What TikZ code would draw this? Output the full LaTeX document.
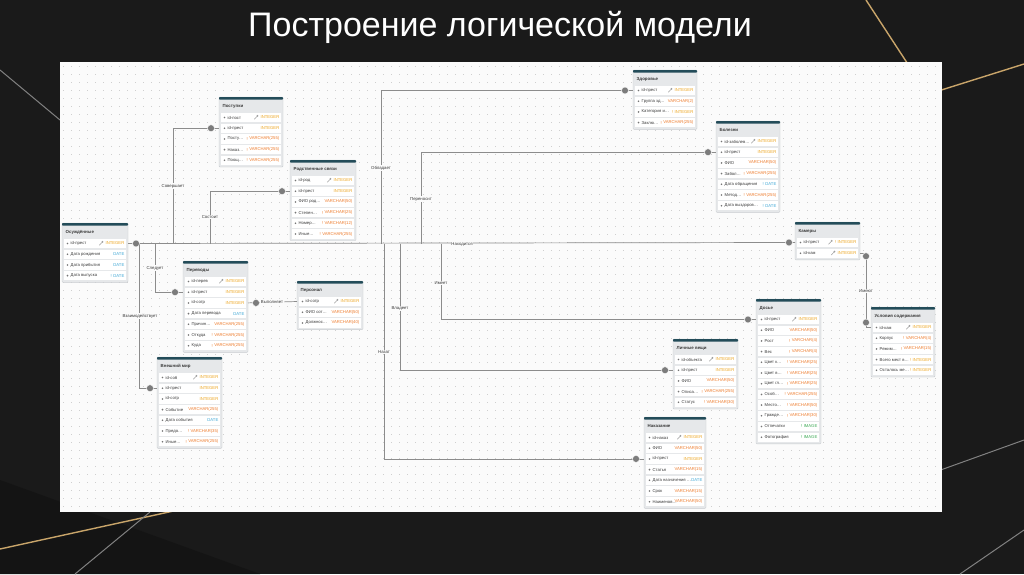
\documentclass[tikz,border=0pt]{standalone}
\usepackage{fontspec}
\setmainfont{Liberation Sans}
\usetikzlibrary{calc}
\definecolor{bgdark}{HTML}{1A1A1A}
\definecolor{gold}{HTML}{C9A56A}
\definecolor{canvasc}{HTML}{FBFBFB}
\definecolor{gridc}{HTML}{CFCFCF}
\definecolor{tabbg}{HTML}{E6E8EA}
\definecolor{tabtop}{HTML}{234C59}
\definecolor{tabline}{HTML}{C8CCD0}
\definecolor{cint}{HTML}{EDA41C}
\definecolor{cvar}{HTML}{EE7A2A}
\definecolor{cdate}{HTML}{3EA7D6}
\definecolor{cimg}{HTML}{37A851}
\definecolor{linec}{HTML}{8C8C8C}
\definecolor{connc}{HTML}{7C7C7C}
\definecolor{txtc}{HTML}{3A3A3A}
\tikzset{
  hdr/.style={font=\fontsize{4.4}{5}\selectfont\bfseries, text=txtc, inner sep=0},
  rowtxt/.style={font=\fontsize{4.2}{5}\selectfont, text=txtc, inner sep=0},
  rel/.style={draw=linec, line width=0.7},
  conn/.style={circle, fill=connc, draw=white, line width=0.4, minimum size=7pt, inner sep=0},
  rlabel/.style={font=\fontsize{4.3}{5}\selectfont, text=txtc, fill=canvasc, inner sep=0.6},
  goldline/.style={draw=gold, line width=1.4},
  greyline/.style={draw=white!45!bgdark, line width=1.0}
}
% #1 name, #2 x, #3 y, #4 width, #5 rows, #6 title, #7 rows list
\newcommand\dbtab[7]{%
\begin{scope}[shift={(#2,#3)}]
\pgfmathsetmacro\tabh{16.5+10.7*#5}
\fill[tabbg, draw=tabline, line width=0.4, rounded corners=1] (0,0) rectangle (#4,\tabh);
\fill[tabtop, rounded corners=0.8] (0,0) rectangle (#4,2.6);
\node[hdr, anchor=west] (#1-title) at (3.5,9) {#6};
\foreach \rn/\rt/\rc/\rk [count=\ri from 0] in {#7}{
  \pgfmathsetmacro\yy{20.5+10.7*\ri}
  \fill[white] (1.6,\yy-4.7) rectangle (#4-1.6,\yy+4.7);
  \coordinate (#1-\ri-w) at (0,\yy);
  \coordinate (#1-\ri-e) at (#4,\yy);
  \fill[txtc!70] (5.5,\yy) circle (0.9);
  \node[rowtxt, anchor=west] at (8.5,\yy) {\rn};
  \node[rowtxt, anchor=east, text=\rc] (tt) at (#4-3.5,\yy) {\rt};
  \ifcase\rk
  \or
    \draw[gray!75, line width=0.5] ($(tt.west)+(-6.2,1.8)$) -- ($(tt.west)+(-3.2,-1.4)$);
    \fill[gray!75] ($(tt.west)+(-3,-1.6)$) circle (1.0);
  \or
    \node[rowtxt, anchor=east, text=\rc] at ($(tt.west)+(-1.2,0)$) {!};
  \or
    \node[rowtxt, anchor=east, text=\rc] (bb) at ($(tt.west)+(-1.2,0)$) {!};
    \draw[gray!75, line width=0.5] ($(bb.west)+(-6.2,1.8)$) -- ($(bb.west)+(-3.2,-1.4)$);
    \fill[gray!75] ($(bb.west)+(-3,-1.6)$) circle (1.0);
  \fi
}
\end{scope}}
\begin{document}
\begin{tikzpicture}[x=1pt, y=-1pt]
\useasboundingbox (0,0) rectangle (1024,574);
% background
\fill[bgdark] (0,0) rectangle (1024,574);
\fill[black!92] (0,480) -- (260,574) -- (0,574) -- cycle;
\draw[greyline] (0,70) -- (60,120);
\draw[goldline] (866,0) -- (915,75);
\draw[goldline] (935,92) -- (1024,64);
\draw[goldline] (0,549) -- (210,503);
\draw[greyline] (150,512) -- (75,574);
\draw[greyline] (935,472) -- (1024,440);
\draw[greyline] (960,574) -- (1024,530);
% title
\node[text=white, font=\fontsize{34}{40}\selectfont] (title) at (500,27) {Построение логической модели};
% canvas
\fill[canvasc] (60,62) rectangle (942,512);
\foreach \gy in {66,74,...,508}{
  \draw[gridc, line width=0.8, dash pattern=on 0.8 off 7.2] (63,\gy) -- (940,\gy);
}
% ---------- tables ----------
\dbtab{os}{62}{223}{66}{4}{Осуждённые}{id-прест/INTEGER/cint/1, Дата рождения/DATE/cdate/0, Дата прибытия/DATE/cdate/0, Дата выпуска/DATE/cdate/2}
\dbtab{post}{219}{97}{64}{5}{Поступки}{id-пост/INTEGER/cint/1, id-прест/INTEGER/cint/0, Посту…/VARCHAR(255)/cvar/2, Наказ…/VARCHAR(255)/cvar/2, Поощ…/VARCHAR(255)/cvar/2}
\dbtab{rod}{290}{160}{66}{6}{Родственные связи}{id-род/INTEGER/cint/1, id-прест/INTEGER/cint/0, ФИО род…/VARCHAR(50)/cvar/0, Степен…/VARCHAR(25)/cvar/2, Номер…/VARCHAR(12)/cvar/2, Иные…/VARCHAR(255)/cvar/2}
\dbtab{per}{183}{261}{65}{7}{Переводы}{id-перев/INTEGER/cint/1, id-прест/INTEGER/cint/0, id-сотр/INTEGER/cint/0, Дата перевода/DATE/cdate/0, Причин…/VARCHAR(255)/cvar/0, Откуда/VARCHAR(255)/cvar/2, Куда/VARCHAR(255)/cvar/2}
\dbtab{pers}{297}{281}{66}{3}{Персонал}{id-сотр/INTEGER/cint/1, ФИО сот…/VARCHAR(50)/cvar/0, Должнос…/VARCHAR(40)/cvar/0}
\dbtab{vm}{157}{357}{65}{7}{Внешний мир}{id-соб/INTEGER/cint/1, id-прест/INTEGER/cint/0, id-сотр/INTEGER/cint/0, Событие/VARCHAR(255)/cvar/0, Дата события/DATE/cdate/0, Предо…/VARCHAR(35)/cvar/2, Иные…/VARCHAR(255)/cvar/2}
\dbtab{zd}{633}{70}{64}{4}{Здоровье}{id-прест/INTEGER/cint/1, Группа зд…/VARCHAR(2)/cvar/0, Категория и…/INTEGER/cint/2, Заклю…/VARCHAR(255)/cvar/2}
\dbtab{bol}{716}{121}{64}{7}{Болезни}{id-заболев…/INTEGER/cint/1, id-прест/INTEGER/cint/0, ФИО/VARCHAR(50)/cvar/0, Забол…/VARCHAR(255)/cvar/2, Дата обращения/DATE/cdate/2, Метод…/VARCHAR(255)/cvar/2, Дата выздоров…/DATE/cdate/2}
\dbtab{kam}{795}{222}{65}{2}{Камеры}{id-прест/INTEGER/cint/3, id-кам/INTEGER/cint/1}
\dbtab{dos}{756}{299}{65}{12}{Досье}{id-прест/INTEGER/cint/1, ФИО/VARCHAR(50)/cvar/0, Рост/VARCHAR(4)/cvar/2, Вес/VARCHAR(4)/cvar/2, Цвет к…/VARCHAR(25)/cvar/2, Цвет в…/VARCHAR(25)/cvar/2, Цвет гл…/VARCHAR(25)/cvar/2, Особ…/VARCHAR(255)/cvar/2, Место…/VARCHAR(50)/cvar/2, Гражде…/VARCHAR(30)/cvar/2, Отпечатки/IMAGE/cimg/2, Фотография/IMAGE/cimg/2}
\dbtab{usl}{871}{307}{64}{5}{Условия содержания}{id-кам/INTEGER/cint/1, Корпус/VARCHAR(4)/cvar/2, Режим…/VARCHAR(15)/cvar/2, Всего мест в…/INTEGER/cint/2, Осталось ме…/INTEGER/cint/2}
\dbtab{lv}{673}{339}{65}{5}{Личные вещи}{id-объекта/INTEGER/cint/1, id-прест/INTEGER/cint/0, ФИО/VARCHAR(50)/cvar/0, Описа…/VARCHAR(255)/cvar/2, Статус/VARCHAR(30)/cvar/2}
\dbtab{nak}{644}{417}{62}{7}{Наказание}{id-наказ/INTEGER/cint/1, ФИО/VARCHAR(50)/cvar/0, id-прест/INTEGER/cint/0, Статья/VARCHAR(15)/cvar/0, Дата назначения …/DATE/cdate/0, Срок/VARCHAR(15)/cvar/0, Наименов…/VARCHAR(50)/cvar/0}
% ---------- connectors ----------
\coordinate (o) at ($(os-0-e)+(8,0)$);
\coordinate (jPost) at (173,0 |- o);
\coordinate (jRod) at (210,0 |- o);
\coordinate (jZd) at (381,0 |- o);
\coordinate (jBol) at (421,0 |- o);
\coordinate (jDos) at (441,0 |- o);
\coordinate (jLv) at (400,0 |- o);
\coordinate (jNak) at (384,0 |- o);
\coordinate (jPer) at (155,0 |- o);
\coordinate (jVm) at (139,0 |- o);
\draw[rel] (os-0-e) -- (kam-0-w);
\draw[rel] (jPost) |- (post-1-w);
\draw[rel] (jRod) |- (rod-1-w);
\draw[rel] (jZd) |- (zd-0-w);
\draw[rel] (jBol) |- (bol-1-w);
\draw[rel] (jDos) |- (dos-0-w);
\draw[rel] (jLv) |- (lv-1-w);
\draw[rel] (jNak) |- (nak-2-w);
\draw[rel] (jPer) |- (per-1-w);
\draw[rel] (jVm) |- (vm-1-w);
\draw[rel] (per-2-e) -- (pers-0-w);
\coordinate (kr) at ($(kam-1-e)+(6,0)$);
\draw[rel] (kam-1-e) -- (kr) |- (usl-0-w);
% connector end circles
\node[conn] (c-os) at (o) {};
\node[conn] (c-post) at ($(post-1-w)+(-8,0)$) {};
\node[conn] (c-rod) at ($(rod-1-w)+(-8,0)$) {};
\node[conn] (c-zd) at ($(zd-0-w)+(-8,0)$) {};
\node[conn] (c-bol) at ($(bol-1-w)+(-8,0)$) {};
\node[conn] (c-dos) at ($(dos-0-w)+(-8,0)$) {};
\node[conn] (c-lv) at ($(lv-1-w)+(-8,0)$) {};
\node[conn] (c-nak) at ($(nak-2-w)+(-8,0)$) {};
\node[conn] (c-per) at ($(per-1-w)+(-8,0)$) {};
\node[conn] (c-vm) at ($(vm-1-w)+(-7,0)$) {};
\node[conn] (c-kam) at ($(kam-0-w)+(-6,0)$) {};
\node[conn] (c-pers) at ($(per-2-e)+(8,0)$) {};
\node[conn] (c-kr) at ($(kr)+(0,3)$) {};
\node[conn] (c-usl) at ($(kr |- usl-0-w)+(0,-5)$) {};
% relation labels
\node[rlabel] (l-post) at (173,186) {Совершает};
\node[rlabel] (l-rod) at (210,217) {Состоит};
\node[rlabel] (l-zd) at (381,168) {Обладает};
\node[rlabel] (l-bol) at (421,199) {Переносит};
\node[rlabel] (l-kam) at (462,244) {Находится};
\node[rlabel] (l-dos) at (441,283) {Имеет};
\node[rlabel] (l-lv) at (400,308) {Владеет};
\node[rlabel] (l-nak) at (384,352) {Назат};
\node[rlabel] (l-per) at (155,268) {Следует};
\node[rlabel] (l-vm) at (140,316) {Взаимодействует};
\node[rlabel] (l-pers) at (272,302) {Выполняет};
\node[rlabel] (l-usl) at (866,291) {Имеют};
\end{tikzpicture}
\end{document}
